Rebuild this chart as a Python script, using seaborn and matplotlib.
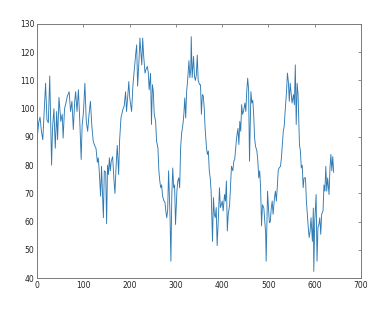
import matplotlib
matplotlib.use("Agg")
import matplotlib.pyplot as plt
import seaborn as sns
import pandas as pd

# segment 1: t 0..198
t_a = [0, 3, 6, 9, 12, 15, 18, 21, 24, 27, 31, 33, 36, 39, 42, 44, 47,
       51, 54, 56, 59, 62, 65, 69, 72, 75, 78,
       81, 83, 86, 89, 92, 95, 97, 100, 103, 106,
       109, 112, 115, 118, 121, 124, 127, 130, 132, 134,
       137, 139, 141, 143, 145, 148, 150, 152, 154, 156,
       158, 160, 163, 166, 168, 171, 173, 176, 178, 181,
       185, 188, 191, 193, 196, 198]
v_a = [89.6, 95, 97, 92, 89, 99, 109, 96, 95, 111.6, 80, 93, 100, 86, 99, 89, 104,
       95.5, 98, 89.6, 100, 102, 104.4, 106, 99, 102.6, 92.6,
       102.6, 106, 99, 106.7, 95.5, 82, 94, 99, 109, 95.5,
       92, 98, 102.6, 94, 88.5, 87, 86, 81, 82.6, 78,
       69, 79.6, 71, 61.4, 78, 77.5, 59.3, 80, 76.7, 82.6,
       78, 81.4, 83, 74.4, 70, 81.4, 87, 76.7, 88.5, 96.7,
       99.6, 101, 106, 99, 105, 109.6]

# segment 2: t 200..413
t_b = [200, 204, 207, 210, 213, 215, 217, 220, 222, 224,
       226, 228, 230, 233, 235, 238, 240, 242, 245, 247,
       249, 251, 253, 256, 258, 261, 263, 265, 267, 269,
       271, 274, 276, 278, 280, 282, 284, 287, 289, 291,
       293, 295, 297, 299, 302, 304, 306, 308, 310, 312,
       315, 317, 319, 321, 323, 325, 328, 330, 332, 333,
       335, 338, 340, 342, 344, 346, 348, 351, 353, 355,
       357, 359, 361, 363, 366, 368, 370, 372, 374, 376,
       379, 381, 383, 385, 387, 389, 392, 394, 396, 398,
       400, 402, 405, 407, 409, 411, 413]
v_b = [103.8, 99, 108.5, 114, 119.6, 122.6, 108, 117, 125, 120,
       115.5, 125, 119, 112.6, 113.8, 115, 113, 106.7, 112.5, 94.4,
       108.5, 106, 98, 95.5, 88.5, 86, 78, 74.4, 72, 73,
       69, 67.3, 67, 63.8, 61.4, 64, 78, 62.6, 46, 69.6,
       79, 72, 73, 59, 70.8, 74.4, 75.5, 72, 86, 91,
       94.4, 98, 103.8, 96.7, 106, 109.6, 117, 111, 114, 125.5,
       111, 118.5, 111.4, 110, 112, 119, 110, 108.5, 108.5, 98,
       105, 104.5, 100.5, 93, 86, 83.8, 85, 78, 75.5, 70.8,
       53, 68.5, 62.6, 61.4, 65, 51.5, 62.6, 72, 65, 66,
       67.3, 63.8, 69.6, 67.3, 74.4, 56.7, 62.6]

# segment 3: t 416..641
t_c = [416, 418, 420, 423, 425, 427, 429, 431, 434, 436,
       438, 440, 442, 444, 446, 449, 451, 453, 455, 457,
       459, 462, 464, 466, 468, 470, 472, 475, 477, 479,
       481, 483, 485, 487, 490, 492, 494, 495, 498, 500,
       502, 504, 506, 508, 510, 513, 515, 517, 519, 521,
       523, 526, 528, 530, 532, 534, 536, 539, 541, 543,
       545, 547, 549, 551, 554, 556, 558, 560, 562, 564,
       567, 569, 571, 573, 575, 577, 580, 582, 584, 586,
       588, 590, 592, 595, 597, 598, 600, 603, 605, 607,
       609, 611, 613, 615, 618, 620, 622, 624, 626, 628,
       631, 633, 635, 637, 639, 641]
v_c = [66, 73, 79.6, 78, 81.4, 82, 86, 89.6, 93, 87.3,
       95.5, 92, 101.4, 98, 99, 102, 99, 106, 110.8, 107,
       81.4, 106, 102, 103, 98, 89.6, 86.7, 85, 81.4, 75.5,
       78, 72, 58.5, 66, 64.8, 60, 55.5, 46, 70.8, 64.8,
       59.6, 60, 64.8, 67.3, 62.6, 68.5, 70.8, 67.3, 72, 78,
       79, 79.6, 82.6, 87.3, 92, 93.8, 99, 106, 112.6, 109.6,
       102.6, 109, 105.5, 102, 105, 101.4, 115.5, 94.4, 109, 105,
       87.3, 85, 79, 80, 72, 75.5, 75.5, 67.3, 62.6, 58,
       54.4, 56.7, 61.4, 53, 64.8, 42.4, 60, 69.6, 46, 58,
       59, 61.4, 55.5, 62.6, 63.8, 73, 70.8, 79.6, 70.8, 75.5,
       69.6, 79, 83.8, 78, 83, 77.4]

x_ticks = [0, 100, 200, 300, 400, 500, 600, 700]
y_ticks = [40, 50, 60, 70, 80, 90, 100, 110, 120, 130]

df = pd.DataFrame({"t": t_a + t_b + t_c, "value": v_a + v_b + v_c})

sns.set_style("white")
fig = plt.figure(figsize=(3.84, 3.15), dpi=100)
ax = fig.add_axes([0.097, 0.117, 0.843, 0.807])
sns.lineplot(data=df, x="t", y="value", ax=ax, color="#2f7ab3",
             linewidth=0.65, estimator=None)
ax.set_xlim(0, 700)
ax.set_ylim(40, 130)
ax.set_xticks(x_ticks)
ax.set_yticks(y_ticks)
ax.set_xlabel("")
ax.set_ylabel("")
for s in ax.spines.values():
    s.set_visible(True)
    s.set_color("#7a7a7a")
    s.set_linewidth(0.7)
ax.tick_params(direction="in", length=2.5, width=0.6, colors="#7a7a7a",
               labelcolor="#222222", labelsize=5.5, top=True, right=True,
               pad=2)
fig.savefig("out.png", dpi=100)
